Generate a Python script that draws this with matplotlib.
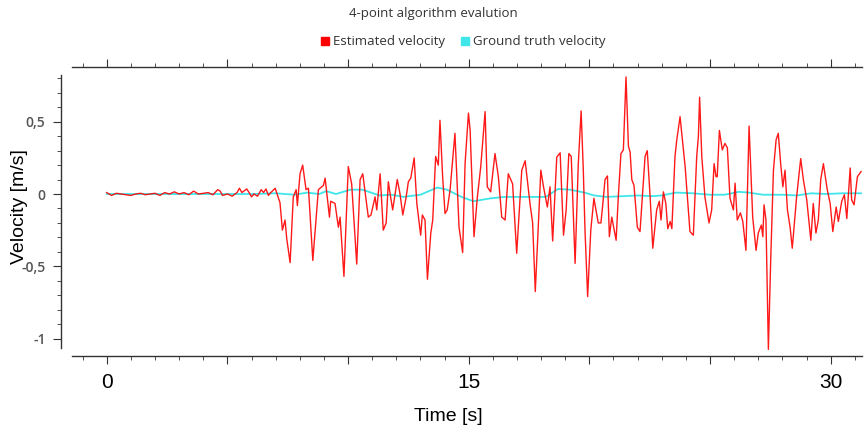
import matplotlib
matplotlib.use("Agg")
import matplotlib.pyplot as plt
from matplotlib.lines import Line2D
from matplotlib.ticker import MultipleLocator, FixedLocator, FuncFormatter
import numpy as np

# estimated velocity (red)
est_t = [0.0, 0.2, 0.4, 0.6, 0.8, 1.0, 1.2, 1.4, 1.6, 1.8,
         2.0, 2.2, 2.4, 2.6, 2.8, 3.0, 3.2, 3.4, 3.6, 3.8,
         4.0, 4.2, 4.4, 4.6, 4.7, 4.8, 5.0, 5.2, 5.4, 5.5,
         5.6, 5.8, 5.9, 6.0, 6.1, 6.25, 6.4, 6.5, 6.6, 6.7,
         6.77, 6.98, 7.18, 7.28, 7.39, 7.46, 7.6, 7.73, 7.85, 7.9,
         8.01, 8.12, 8.26, 8.36, 8.54, 8.77, 8.98, 9.05, 9.23, 9.28,
         9.46, 9.6, 9.67, 9.83, 10.01, 10.15, 10.36, 10.5, 10.61, 10.84,
         10.95, 11.12, 11.19, 11.33, 11.46, 11.58, 11.67,
         11.74, 11.85, 12.04, 12.15, 12.27, 12.4, 12.5, 12.6, 12.74, 12.85,
         13.01, 13.08, 13.19, 13.29, 13.43, 13.51, 13.63, 13.74, 13.81, 13.92,
         14.02, 14.11, 14.23, 14.43, 14.6, 14.75, 14.85, 14.99, 15.06, 15.22,
         15.36, 15.5, 15.68, 15.77, 15.91, 16.09, 16.23, 16.37, 16.51, 16.64,
         16.82, 16.99, 17.2, 17.34, 17.54, 17.65, 17.76, 17.99, 18.09, 18.26,
         18.37, 18.48, 18.65, 18.79, 18.93, 19.04, 19.15, 19.25, 19.41, 19.54,
         19.66, 19.75, 19.82, 19.93, 20.06, 20.19, 20.37, 20.48, 20.55, 20.65,
         20.75, 20.83, 20.93, 21.11, 21.2, 21.31, 21.41, 21.52, 21.62,
         21.69, 21.76, 21.85, 21.99, 22.1, 22.31, 22.4, 22.52, 22.63, 22.79,
         22.9, 22.97, 23.07, 23.17, 23.25, 23.35, 23.42, 23.55, 23.62, 23.76,
         23.97, 24.17, 24.31, 24.45, 24.52, 24.57, 24.66, 24.79, 24.96, 25.07,
         25.17, 25.25, 25.3, 25.39, 25.51, 25.62, 25.72, 25.83, 25.97, 26.04,
         26.13, 26.26, 26.36, 26.49, 26.62,
         26.77, 26.91, 27.0, 27.13, 27.19, 27.24, 27.32, 27.42, 27.52, 27.63,
         27.74, 27.83, 27.93, 28.02, 28.11, 28.21, 28.32, 28.41, 28.59, 28.76,
         28.87, 29.01, 29.18, 29.28, 29.39, 29.49, 29.59, 29.7, 29.86, 29.98,
         30.09, 30.23, 30.32, 30.46, 30.57, 30.67, 30.81, 30.87, 30.97, 31.11,
         31.26]
est_v = [0.01, -0.01, 0.005, 0.0, -0.005, -0.01, 0.0, 0.005, -0.005, 0.0,
         0.005, -0.01, 0.01, 0.0, 0.015, 0.0, 0.01, -0.005, 0.02, 0.0,
         0.005, 0.01, -0.005, 0.03, 0.02, -0.01, 0.0, -0.015, 0.01, 0.04,
         0.01, 0.035, 0.01, -0.02, 0.0, -0.015, 0.03, 0.01, 0.035, -0.01,
         0.005, 0.04, -0.06, -0.25, -0.18, -0.31, -0.475, -0.02, 0.03, -0.08,
         0.14, 0.2, 0.03, 0.04, -0.46, 0.03, 0.06, 0.11, -0.16, -0.05,
         -0.065, -0.23, -0.16, -0.57, 0.19, 0.07, -0.485, 0.1, 0.14, -0.16,
         -0.145, -0.02, -0.11, 0.14, -0.25, -0.2, 0.085,
         0.005, -0.11, 0.1, 0.005, -0.145, -0.03, 0.085, 0.11, 0.25, -0.065,
         -0.285, -0.145, -0.18, -0.59, -0.27, -0.18, 0.26, 0.2, 0.51, 0.12,
         -0.135, -0.11, 0.03, 0.42, -0.23, -0.405, 0.21, 0.56, 0.44, -0.295,
         -0.02, 0.19, 0.57, 0.05, 0.015, 0.28, 0.12, -0.16, -0.18, 0.14,
         0.07, -0.41, 0.165, 0.23, -0.065, -0.2, -0.675, 0.165, 0.06, -0.09,
         0.05, -0.325, 0.255, 0.285, -0.285, -0.11, 0.28, 0.26, -0.48, 0.2,
         0.575, 0.165, -0.25, -0.71, -0.25, -0.03, -0.2, -0.2, -0.085, 0.1,
         0.125, -0.295, -0.16, -0.32, -0.02, 0.28, 0.305, 0.81, 0.33,
         0.29, 0.1, 0.06, -0.23, -0.26, 0.26, 0.3, -0.02, -0.375, -0.11,
         -0.05, -0.18, 0.015, -0.065, -0.24, -0.19, -0.24, 0.26, 0.37, 0.535,
         0.19, -0.26, -0.285, 0.26, 0.4, 0.67, 0.26, -0.02, -0.2, -0.11,
         0.21, 0.12, 0.12, 0.44, 0.305, 0.35, 0.32, -0.03, -0.11, 0.075,
         -0.18, -0.13, -0.19, -0.39, 0.47,
         -0.16, -0.39, -0.27, -0.215, -0.295, -0.075, -0.18, -1.075, -0.435, 0.165,
         0.375, 0.42, 0.21, 0.05, 0.165, -0.11, -0.23, -0.375, -0.02, 0.245,
         0.1, -0.04, -0.32, -0.065, -0.27, -0.18, 0.1, 0.21, 0.03, -0.065,
         -0.26, -0.09, -0.19, -0.05, -0.005, -0.17, 0.18, -0.04, -0.075, 0.12,
         0.155]

# ground truth velocity (cyan)
gt_t = [0, 2, 4, 6, 7, 7.8, 8.3, 8.8, 9.1, 9.5, 10.1, 10.6, 11.3, 11.8, 12.3,
        13.0, 13.7, 14.1, 14.7, 15.2, 15.9, 16.5, 17.2, 18.2, 18.7, 19.2,
        19.8, 20.2, 20.7, 21.4, 22.0, 22.6, 23.0, 23.6, 24.3, 25.0, 25.6,
        26.2, 26.6, 27.2, 28.0, 28.6, 29.2, 29.8, 30.5, 31.3]
gt_v = [0, 0, 0, 0, 0.005, -0.005, 0.01, 0.0, 0.02, 0.0, 0.03, 0.03, -0.01,
        -0.005, -0.02, -0.005, 0.045, 0.03, -0.02, -0.05, -0.03, -0.02,
        -0.02, -0.02, 0.035, 0.03, 0.01, -0.01, -0.02, -0.015, -0.01, -0.015,
        -0.01, 0.01, 0.005, -0.005, -0.005, 0.015, 0.01, -0.005, -0.005,
        -0.01, 0.005, 0.0, 0.005, 0.005]

red = "#ff0000"
cyan = "#3ee6ea"

fig = plt.figure(figsize=(8.66, 4.33), dpi=100)
ax = fig.add_axes([72/866, 1-356/433, 790/866, 289/433])

ax.plot(gt_t, gt_v, color=cyan, lw=1.3, zorder=2)
ax.plot(est_t, est_v, color=red, lw=1.0, alpha=0.9, zorder=3)

ax.set_xlim(-1.44, 31.3)
ax.set_ylim(-1.121, 0.879)

ax.spines["right"].set_visible(False)
ax.spines["left"].set_position(("outward", 8))
ax.spines["left"].set_bounds(-1.066, 0.823)
for s in ax.spines.values():
    s.set_color("#333333")
    s.set_linewidth(1.0)

ax.xaxis.set_major_locator(MultipleLocator(5))
ax.xaxis.set_minor_locator(MultipleLocator(1))
ax.xaxis.set_major_formatter(FuncFormatter(lambda x, p: "%d" % x if round(x) % 15 == 0 else ""))
ax.yaxis.set_major_locator(MultipleLocator(0.5))
ax.yaxis.set_minor_locator(FixedLocator(np.arange(-10, 9) / 10))
ax.yaxis.set_major_formatter(FuncFormatter(lambda y, p: ("%g" % y).replace(".", ",").replace("\u2212", "-")))

ax.tick_params(axis="x", which="both", top=True, direction="out", color="#333333")
ax.tick_params(axis="x", which="major", length=6, labelsize=15, pad=6)
ax.tick_params(axis="x", which="minor", length=3)
ax.tick_params(axis="y", which="major", length=6, labelsize=10, pad=5,
               labelcolor="#555555", color="#333333")
ax.tick_params(axis="y", which="minor", length=3, color="#333333")
for lab in ax.get_xticklabels():
    lab.set_family("Liberation Sans")
for lab in ax.get_yticklabels():
    lab.set_family("Open Sans")
    lab.set_weight("semibold")

ax.set_xlabel("Time [s]", fontsize=14, family="Liberation Sans")
ax.xaxis.set_label_coords((448-72)/790, -(408-356)/289, transform=ax.transAxes)
ax.set_ylabel("Velocity [m/s]", fontsize=14, family="Liberation Sans")
ax.yaxis.set_label_coords(-(72-28)/790, (356-207)/289, transform=ax.transAxes)

fig.text(433/866, 1-14/433, "4-point algorithm evalution", ha="center", va="center",
         fontsize=9.5, family="Open Sans", color="#333333")
handles = [Line2D([], [], ls="none", marker="s", ms=6, color=red),
           Line2D([], [], ls="none", marker="s", ms=6, color=cyan)]
fig.legend(handles, ["Estimated velocity", "Ground truth velocity"], loc="center",
           bbox_to_anchor=(462/866, 1-42/433), ncol=2, frameon=False,
           prop={"family": "Open Sans", "size": 9.5}, handletextpad=0.1,
           columnspacing=1.0, handlelength=1.0, labelcolor="#333333")

fig.savefig("out.png", dpi=100)
